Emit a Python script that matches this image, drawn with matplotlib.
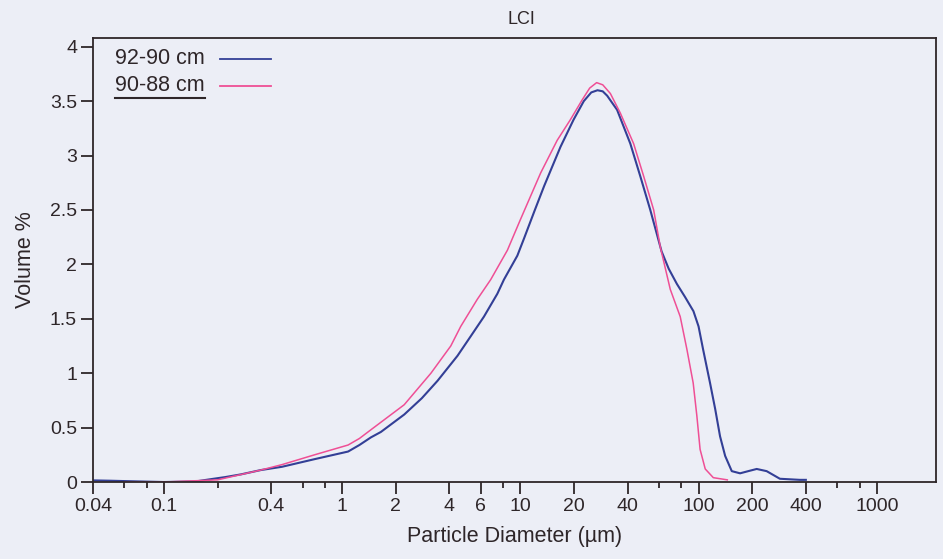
from __future__ import annotations

from dataclasses import dataclass

import matplotlib as mpl
import matplotlib.pyplot as plt
from matplotlib.ticker import FixedLocator, NullFormatter

# Particle size distribution
SIZE_92_90 = [0.04, 0.05, 0.07, 0.1, 0.15, 0.19, 0.22, 0.27, 0.35, 0.46, 0.70,
              1.08, 1.25, 1.45, 1.65, 2.23, 2.8, 3.43, 4.44, 5.27, 6.25, 7.43,
              8.09, 9.62, 10.5, 12.0, 13.6, 16.8, 19.9, 22.7, 25.0, 27.1, 29.0,
              30.7, 34.9, 41.4, 47.1, 53.6, 62.0, 68.0, 75.6, 84.0, 93.6, 100,
              106, 116, 124, 132, 141, 153.6, 171, 190, 212, 241, 286, 370, 400]
VOLUME_92_90 = [0.015, 0.012, 0.006, 0.0, 0.005, 0.03, 0.045, 0.07, 0.11, 0.14,
                0.21, 0.28, 0.34, 0.41, 0.46, 0.62, 0.77, 0.93, 1.16, 1.34, 1.52,
                1.73, 1.86, 2.08, 2.24, 2.49, 2.72, 3.08, 3.33, 3.50, 3.58, 3.60,
                3.59, 3.55, 3.42, 3.11, 2.81, 2.50, 2.12, 1.96, 1.82, 1.70, 1.57,
                1.43, 1.22, 0.91, 0.67, 0.42, 0.24, 0.10, 0.08, 0.10, 0.12, 0.10,
                0.03, 0.02, 0.02]

SIZE_90_88 = [0.06, 0.1, 0.2, 0.35, 0.46, 0.70, 1.08, 1.25, 1.45, 2.23, 3.15,
              4.07, 4.63, 5.74, 6.82, 8.46, 10.0, 13.0, 16.1, 19.1, 22.2, 24.5,
              26.8, 29.0, 32.0, 36.4, 43.2, 49.2, 56.0, 61.0, 69.4, 78.9, 86.0,
              93.3, 97.8, 102, 109, 121, 145]
VOLUME_90_88 = [0.0, 0.0, 0.02, 0.11, 0.16, 0.25, 0.34, 0.40, 0.48, 0.71, 1.00,
                1.25, 1.43, 1.68, 1.86, 2.13, 2.41, 2.84, 3.14, 3.33, 3.51, 3.62,
                3.67, 3.65, 3.57, 3.39, 3.11, 2.81, 2.50, 2.16, 1.77, 1.52, 1.22,
                0.91, 0.61, 0.30, 0.12, 0.04, 0.02]

X_MAJOR = [0.04, 0.1, 0.4, 1, 2, 4, 6, 10, 20, 40, 100, 200, 400, 1000]
X_LABELS = ["0.04", "0.1", "0.4", "1", "2", "4", "6", "10", "20", "40",
            "100", "200", "400", "1000"]
X_MINOR = [0.06, 0.08, 0.2, 0.6, 0.8, 8, 60, 80, 600, 800]
Y_TICKS = [0, 0.5, 1, 1.5, 2, 2.5, 3, 3.5, 4]
Y_LABELS = ["0", "0.5", "1", "1.5", "2", "2.5", "3", "3.5", "4"]


@dataclass
class PlotStyle:
    figsize: tuple = (9.43, 5.59)
    dpi: int = 100
    paper_color: str = "#eceef6"
    ink_color: str = "#2e2629"
    blue: str = "#333f96"
    pink: str = "#ef4f95"
    tick_size: float = 14
    label_size: float = 15.5


def setup_style(style: PlotStyle) -> None:
    mpl.rcParams.update(
        {
            "font.family": ["Liberation Sans", "DejaVu Sans"],
            "axes.facecolor": style.paper_color,
            "figure.facecolor": style.paper_color,
            "axes.edgecolor": style.ink_color,
            "axes.linewidth": 1.3,
            "xtick.color": style.ink_color,
            "ytick.color": style.ink_color,
            "text.color": style.ink_color,
            "axes.labelcolor": style.ink_color,
        }
    )


def main() -> None:
    style = PlotStyle()
    setup_style(style)

    fig = plt.figure(figsize=style.figsize, dpi=style.dpi)
    ax = fig.add_axes([0.0986, 0.1377, 0.8940, 0.7943])

    ax.plot(SIZE_92_90, VOLUME_92_90, color=style.blue, linewidth=1.5)
    ax.plot(SIZE_90_88, VOLUME_90_88, color=style.pink, linewidth=1.1)

    ax.set_xscale("log")
    ax.set_xlim(0.04, 2150)
    ax.set_ylim(0, 4.08)

    ax.xaxis.set_major_locator(FixedLocator(X_MAJOR))
    ax.set_xticklabels(X_LABELS)
    ax.xaxis.set_minor_locator(FixedLocator(X_MINOR))
    ax.xaxis.set_minor_formatter(NullFormatter())
    ax.set_yticks(Y_TICKS)
    ax.set_yticklabels(Y_LABELS)

    ax.tick_params(axis="both", which="major", length=8.5, width=1.3,
                   labelsize=style.tick_size, pad=3)
    ax.tick_params(axis="x", which="minor", length=4, width=1.3)

    ax.set_xlabel("Particle Diameter (µm)", fontsize=style.label_size,
                  labelpad=8)
    ax.set_ylabel("Volume %", fontsize=style.label_size, labelpad=10)
    fig.text(0.553, 0.965, "LCI", ha="center", va="center", fontsize=13)

    # hand-drawn style legend in the upper-left corner
    for y, label, color in [(0.953, "92-90 cm", style.blue),
                            (0.892, "90-88 cm", style.pink)]:
        ax.text(0.026, y, label, transform=ax.transAxes, fontsize=style.label_size,
                va="center", ha="left")
        ax.plot([0.151, 0.211], [y, y], transform=ax.transAxes, color=color,
                linewidth=1.3)
    ax.plot([0.026, 0.133], [0.866, 0.866], transform=ax.transAxes,
            color=style.ink_color, linewidth=1.5)

    fig.savefig("out.png", dpi=style.dpi)
    plt.close(fig)


if __name__ == "__main__":
    main()
